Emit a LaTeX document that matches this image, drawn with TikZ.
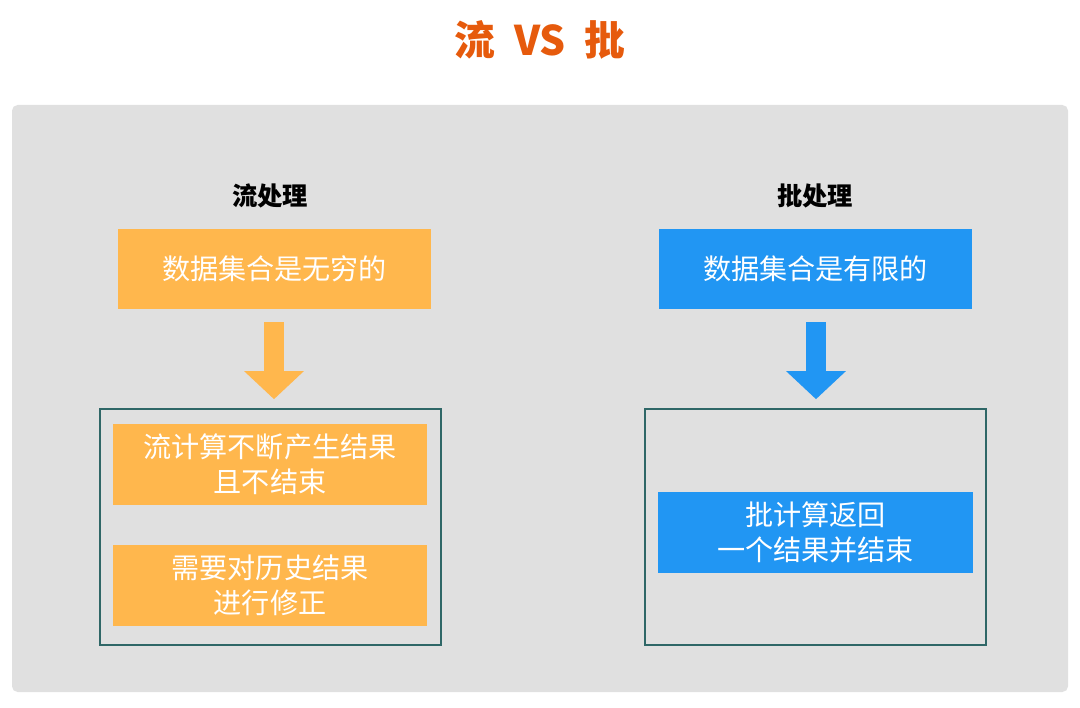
\documentclass[tikz,border=0pt]{standalone}
\usepackage{fontspec}
\setmainfont{Noto Sans CJK SC}
\usetikzlibrary{arrows.meta,positioning}

\definecolor{streamorange}{HTML}{FFB74D}
\definecolor{batchblue}{HTML}{2196F3}
\definecolor{panelgray}{HTML}{E0E0E0}
\definecolor{titleorange}{HTML}{E65A0C}
\definecolor{frameteal}{HTML}{2F6767}

\begin{document}
\begin{tikzpicture}[
    x=0.025cm, y=-0.025cm,
    every node/.style={font=\fontsize{20}{25}\selectfont, align=center, inner sep=0pt},
    heading/.style={font=\fontsize{18}{22}\selectfont\bfseries},
    databox/.style={minimum width=7.825cm, minimum height=2cm, text=white},
    resultbox/.style={minimum width=7.85cm, minimum height=2.025cm, text=white},
    frame/.style={draw=frameteal, line width=1.1pt, minimum width=8.525cm, minimum height=5.9cm},
    bigarrow/.style={line width=0.5cm, -{Triangle[length=0.7cm, width=1.45cm]}, shorten <=0.325cm, shorten >=0.225cm}
]
\useasboundingbox (0,0) rectangle (1080,708);
\fill[white] (0,0) rectangle (1080,708);
\fill[panelgray, rounded corners=4pt] (12,105) rectangle (1068,692);

\node[font=\fontsize{29}{34}\selectfont\bfseries, text=titleorange] (title) at (540,40) {流\hspace{0.45em}VS\hspace{0.45em}批};

% stream side
\node[heading] (streamhead) at (270,196) {流处理};
\node[databox, fill=streamorange] (streamdata) at (274.5,269) {数据集合是无穷的};
\node[frame] (streamframe) at (270.5,527) {};
\node[resultbox, fill=streamorange] (streamres) at (270,464.5) {流计算不断产生结果\\且不结束};
\node[resultbox, fill=streamorange] (streamfix) at (270,585.5) {需要对历史结果\\进行修正};
\draw[bigarrow, streamorange] (streamdata.south -| 274,0) -- (streamframe.north -| 274,0);

% batch side
\node[heading] (batchhead) at (815,196) {批处理};
\node[databox, fill=batchblue] (batchdata) at (815.5,269) {数据集合是有限的};
\node[frame] (batchframe) at (815.5,527) {};
\node[resultbox, fill=batchblue] (batchres) at (815.5,532.5) {批计算返回\\一个结果并结束};
\draw[bigarrow, batchblue] (batchdata.south -| 816,0) -- (batchframe.north -| 816,0);
\end{tikzpicture}
\end{document}
